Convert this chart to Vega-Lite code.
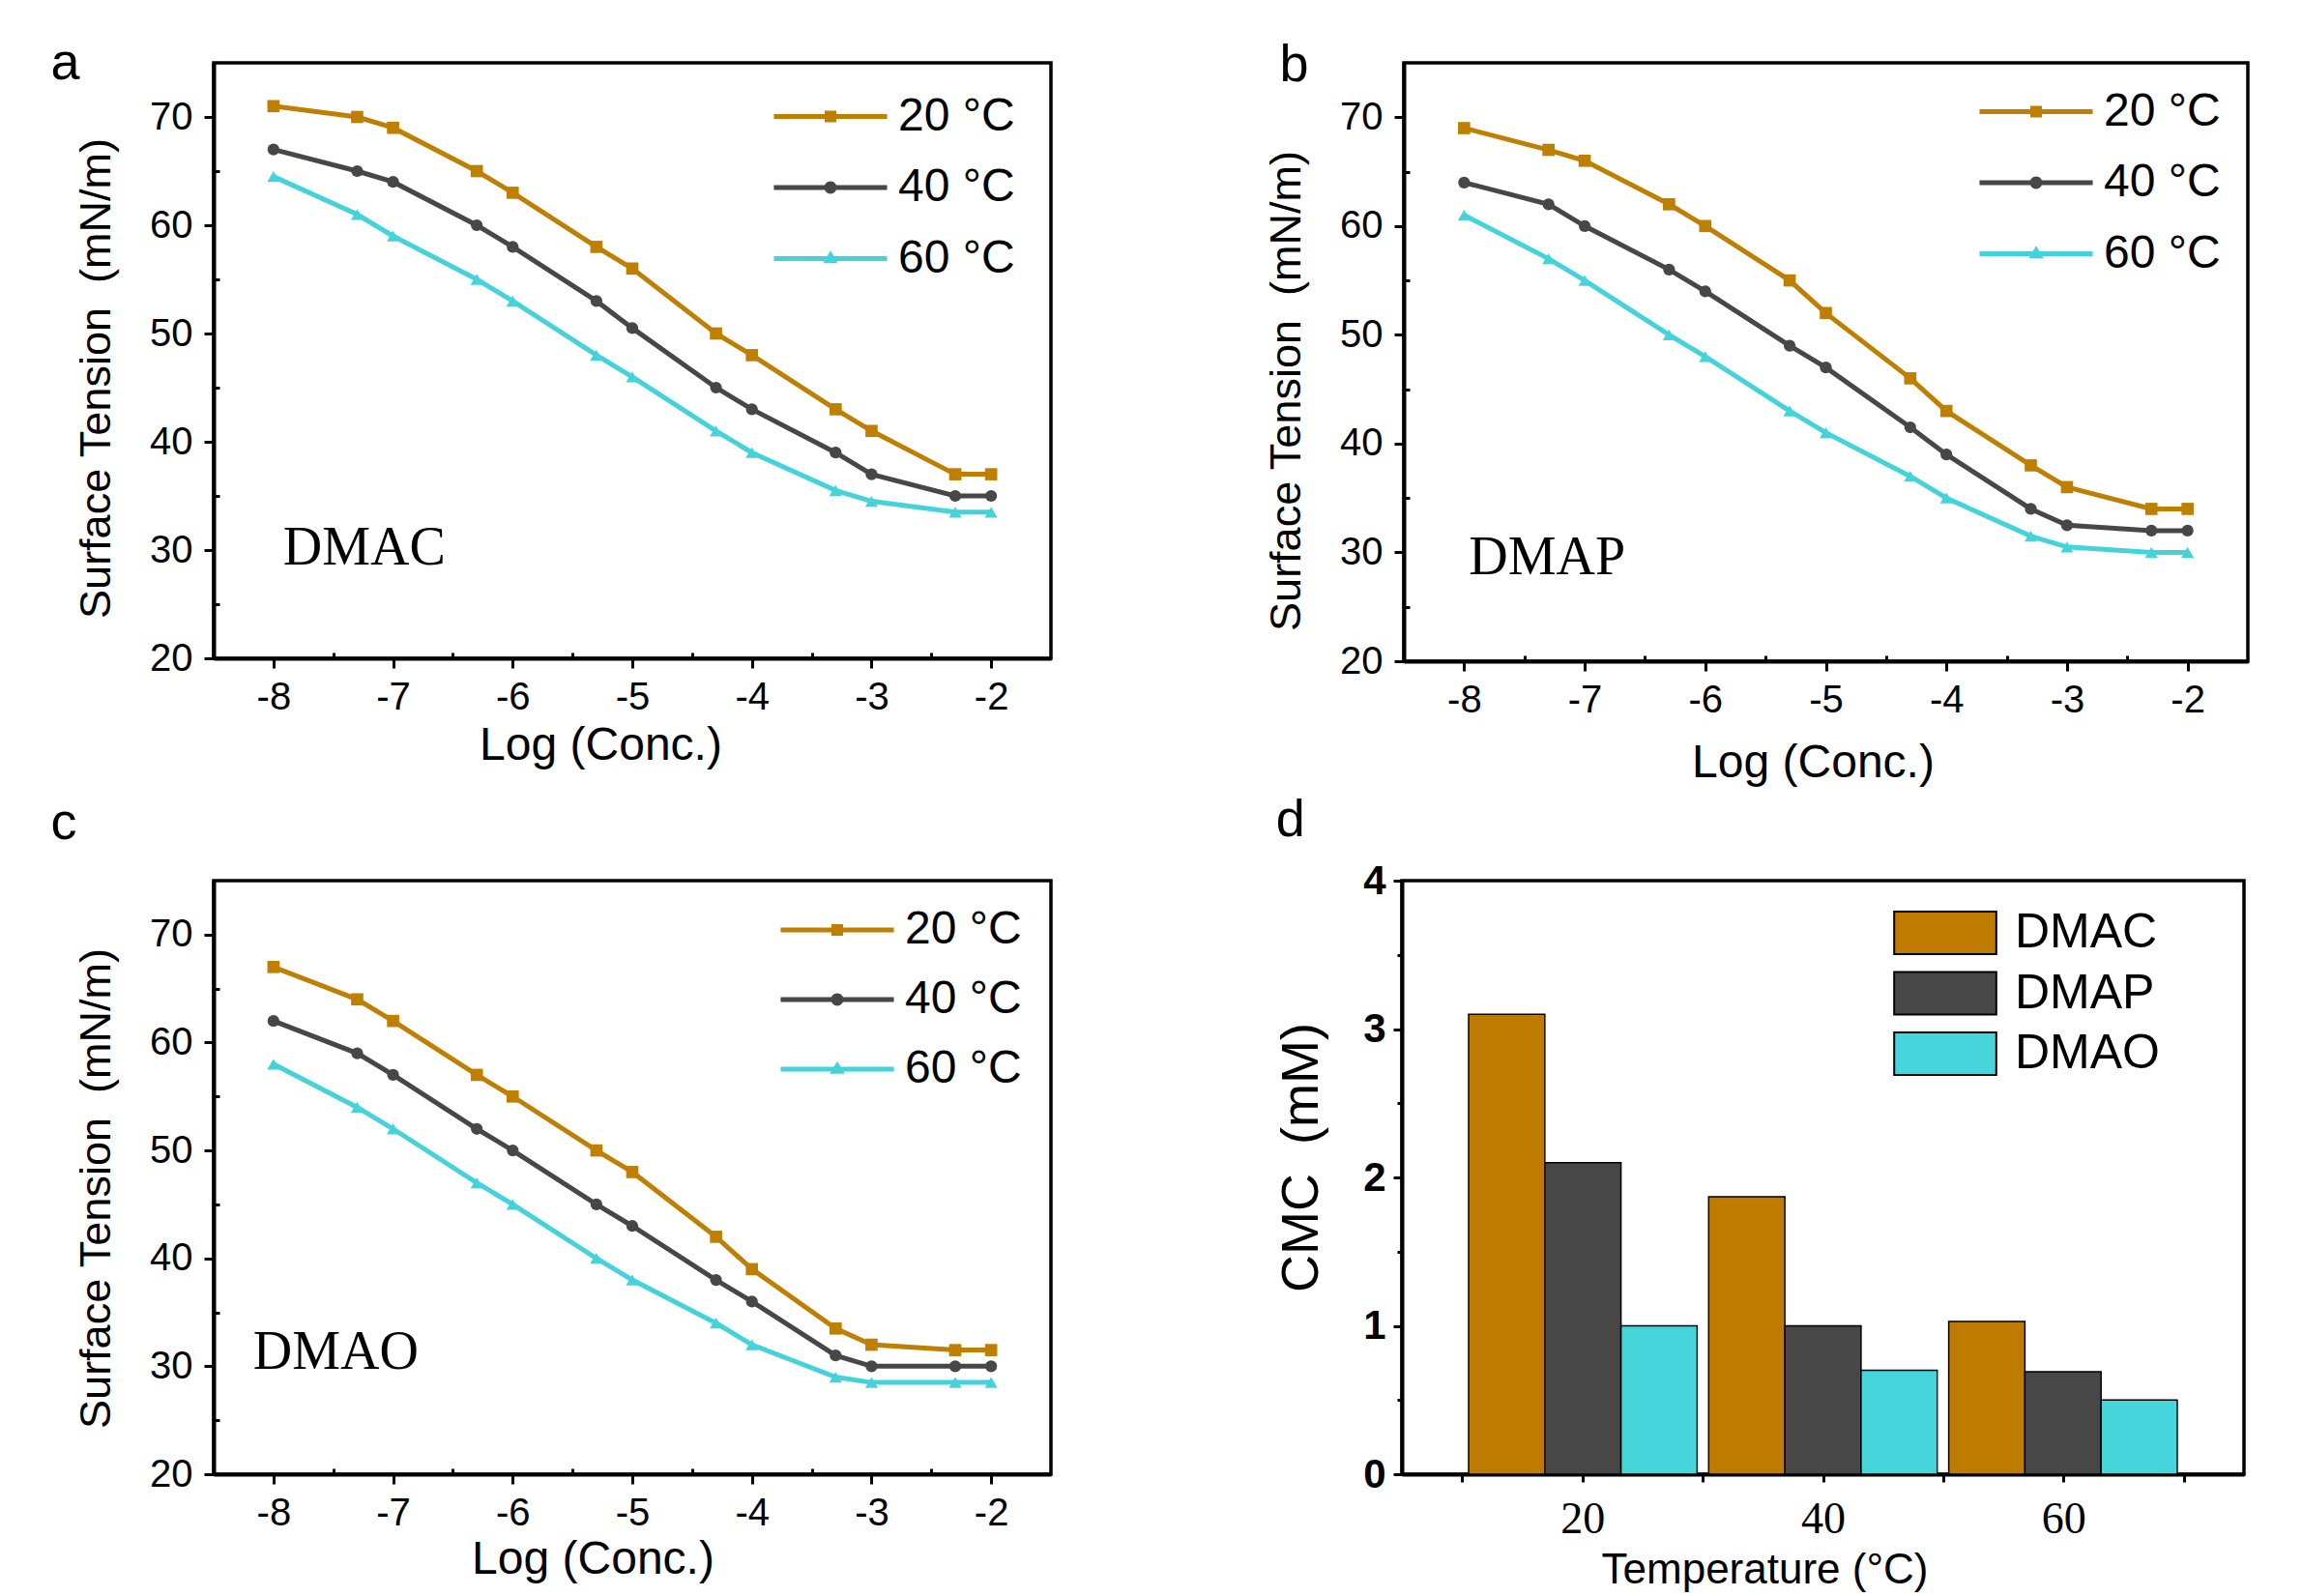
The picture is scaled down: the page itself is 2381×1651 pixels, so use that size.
{
  "$schema": "https://vega.github.io/schema/vega-lite/v6.json",
  "background": "white",
  "padding": {"left": 50, "top": 37, "right": 0, "bottom": 0},
  "config": {
    "view": {"stroke": "black", "strokeWidth": 3.5},
    "axis": {"grid": false, "domainColor": "black", "domainWidth": 4, "tickColor": "black", "tickWidth": 3, "labelColor": "black", "titleColor": "black", "labelFont": "Liberation Sans", "titleFont": "Liberation Sans", "titleFontWeight": "normal", "labelFlush": false, "labelOverlap": false, "labelBound": false},
    "legend": {"labelFont": "Liberation Sans", "labelColor": "black", "labelLimit": 400},
    "title": {"font": "Liberation Sans", "fontSize": 54, "fontWeight": "normal", "color": "black", "anchor": "start", "frame": "bounds", "baseline": "alphabetic"}
  },
  "datasets": {
    "a": [
      {"x": -8, "y": 71, "T": "20 °C"}, {"x": -7.3, "y": 70, "T": "20 °C"}, {"x": -7, "y": 69, "T": "20 °C"}, {"x": -6.3, "y": 65, "T": "20 °C"}, {"x": -6, "y": 63, "T": "20 °C"}, {"x": -5.3, "y": 58, "T": "20 °C"}, {"x": -5, "y": 56, "T": "20 °C"}, {"x": -4.3, "y": 50, "T": "20 °C"}, {"x": -4, "y": 48, "T": "20 °C"}, {"x": -3.3, "y": 43, "T": "20 °C"}, {"x": -3, "y": 41, "T": "20 °C"}, {"x": -2.3, "y": 37, "T": "20 °C"}, {"x": -2, "y": 37, "T": "20 °C"},
      {"x": -8, "y": 67, "T": "40 °C"}, {"x": -7.3, "y": 65, "T": "40 °C"}, {"x": -7, "y": 64, "T": "40 °C"}, {"x": -6.3, "y": 60, "T": "40 °C"}, {"x": -6, "y": 58, "T": "40 °C"}, {"x": -5.3, "y": 53, "T": "40 °C"}, {"x": -5, "y": 50.5, "T": "40 °C"}, {"x": -4.3, "y": 45, "T": "40 °C"}, {"x": -4, "y": 43, "T": "40 °C"}, {"x": -3.3, "y": 39, "T": "40 °C"}, {"x": -3, "y": 37, "T": "40 °C"}, {"x": -2.3, "y": 35, "T": "40 °C"}, {"x": -2, "y": 35, "T": "40 °C"},
      {"x": -8, "y": 64.5, "T": "60 °C"}, {"x": -7.3, "y": 61, "T": "60 °C"}, {"x": -7, "y": 59, "T": "60 °C"}, {"x": -6.3, "y": 55, "T": "60 °C"}, {"x": -6, "y": 53, "T": "60 °C"}, {"x": -5.3, "y": 48, "T": "60 °C"}, {"x": -5, "y": 46, "T": "60 °C"}, {"x": -4.3, "y": 41, "T": "60 °C"}, {"x": -4, "y": 39, "T": "60 °C"}, {"x": -3.3, "y": 35.5, "T": "60 °C"}, {"x": -3, "y": 34.5, "T": "60 °C"}, {"x": -2.3, "y": 33.5, "T": "60 °C"}, {"x": -2, "y": 33.5, "T": "60 °C"}
    ],
    "b": [
      {"x": -8, "y": 69, "T": "20 °C"}, {"x": -7.3, "y": 67, "T": "20 °C"}, {"x": -7, "y": 66, "T": "20 °C"}, {"x": -6.3, "y": 62, "T": "20 °C"}, {"x": -6, "y": 60, "T": "20 °C"}, {"x": -5.3, "y": 55, "T": "20 °C"}, {"x": -5, "y": 52, "T": "20 °C"}, {"x": -4.3, "y": 46, "T": "20 °C"}, {"x": -4, "y": 43, "T": "20 °C"}, {"x": -3.3, "y": 38, "T": "20 °C"}, {"x": -3, "y": 36, "T": "20 °C"}, {"x": -2.3, "y": 34, "T": "20 °C"}, {"x": -2, "y": 34, "T": "20 °C"},
      {"x": -8, "y": 64, "T": "40 °C"}, {"x": -7.3, "y": 62, "T": "40 °C"}, {"x": -7, "y": 60, "T": "40 °C"}, {"x": -6.3, "y": 56, "T": "40 °C"}, {"x": -6, "y": 54, "T": "40 °C"}, {"x": -5.3, "y": 49, "T": "40 °C"}, {"x": -5, "y": 47, "T": "40 °C"}, {"x": -4.3, "y": 41.5, "T": "40 °C"}, {"x": -4, "y": 39, "T": "40 °C"}, {"x": -3.3, "y": 34, "T": "40 °C"}, {"x": -3, "y": 32.5, "T": "40 °C"}, {"x": -2.3, "y": 32, "T": "40 °C"}, {"x": -2, "y": 32, "T": "40 °C"},
      {"x": -8, "y": 61, "T": "60 °C"}, {"x": -7.3, "y": 57, "T": "60 °C"}, {"x": -7, "y": 55, "T": "60 °C"}, {"x": -6.3, "y": 50, "T": "60 °C"}, {"x": -6, "y": 48, "T": "60 °C"}, {"x": -5.3, "y": 43, "T": "60 °C"}, {"x": -5, "y": 41, "T": "60 °C"}, {"x": -4.3, "y": 37, "T": "60 °C"}, {"x": -4, "y": 35, "T": "60 °C"}, {"x": -3.3, "y": 31.5, "T": "60 °C"}, {"x": -3, "y": 30.5, "T": "60 °C"}, {"x": -2.3, "y": 30, "T": "60 °C"}, {"x": -2, "y": 30, "T": "60 °C"}
    ],
    "c": [
      {"x": -8, "y": 67, "T": "20 °C"}, {"x": -7.3, "y": 64, "T": "20 °C"}, {"x": -7, "y": 62, "T": "20 °C"}, {"x": -6.3, "y": 57, "T": "20 °C"}, {"x": -6, "y": 55, "T": "20 °C"}, {"x": -5.3, "y": 50, "T": "20 °C"}, {"x": -5, "y": 48, "T": "20 °C"}, {"x": -4.3, "y": 42, "T": "20 °C"}, {"x": -4, "y": 39, "T": "20 °C"}, {"x": -3.3, "y": 33.5, "T": "20 °C"}, {"x": -3, "y": 32, "T": "20 °C"}, {"x": -2.3, "y": 31.5, "T": "20 °C"}, {"x": -2, "y": 31.5, "T": "20 °C"},
      {"x": -8, "y": 62, "T": "40 °C"}, {"x": -7.3, "y": 59, "T": "40 °C"}, {"x": -7, "y": 57, "T": "40 °C"}, {"x": -6.3, "y": 52, "T": "40 °C"}, {"x": -6, "y": 50, "T": "40 °C"}, {"x": -5.3, "y": 45, "T": "40 °C"}, {"x": -5, "y": 43, "T": "40 °C"}, {"x": -4.3, "y": 38, "T": "40 °C"}, {"x": -4, "y": 36, "T": "40 °C"}, {"x": -3.3, "y": 31, "T": "40 °C"}, {"x": -3, "y": 30, "T": "40 °C"}, {"x": -2.3, "y": 30, "T": "40 °C"}, {"x": -2, "y": 30, "T": "40 °C"},
      {"x": -8, "y": 58, "T": "60 °C"}, {"x": -7.3, "y": 54, "T": "60 °C"}, {"x": -7, "y": 52, "T": "60 °C"}, {"x": -6.3, "y": 47, "T": "60 °C"}, {"x": -6, "y": 45, "T": "60 °C"}, {"x": -5.3, "y": 40, "T": "60 °C"}, {"x": -5, "y": 38, "T": "60 °C"}, {"x": -4.3, "y": 34, "T": "60 °C"}, {"x": -4, "y": 32, "T": "60 °C"}, {"x": -3.3, "y": 29, "T": "60 °C"}, {"x": -3, "y": 28.5, "T": "60 °C"}, {"x": -2.3, "y": 28.5, "T": "60 °C"}, {"x": -2, "y": 28.5, "T": "60 °C"}
    ],
    "d": [
      {"t": 20, "c": "DMAC", "v": 3.1}, {"t": 20, "c": "DMAP", "v": 2.1}, {"t": 20, "c": "DMAO", "v": 1.0},
      {"t": 40, "c": "DMAC", "v": 1.87}, {"t": 40, "c": "DMAP", "v": 1.0}, {"t": 40, "c": "DMAO", "v": 0.7},
      {"t": 60, "c": "DMAC", "v": 1.03}, {"t": 60, "c": "DMAP", "v": 0.69}, {"t": 60, "c": "DMAO", "v": 0.5}
    ]
  },
  "resolve": {"scale": {"color": "independent", "shape": "independent"}},
  "spacing": 5,
  "vconcat": [
    {
      "resolve": {"scale": {"color": "independent", "shape": "independent"}},
      "spacing": 217,
      "hconcat": [
        {
          "width": 866, "height": 616,
          "title": {"text": "a", "offset": -28, "dx": -25},
          "data": {"name": "a"},
          "layer": [
            {"mark": {"type": "point", "filled": true, "size": 0, "opacity": 1},
             "encoding": {
               "x": {"field": "x", "type": "quantitative", "axis": null},
               "y": {"field": "y", "type": "quantitative", "axis": null},
               "color": {"field": "T", "type": "nominal", "scale": {"domain": ["20 °C", "40 °C", "60 °C"], "range": ["#BF7F00", "#474747", "#45D3DB"]},
                         "legend": {"title": null, "orient": "none", "legendX": 614, "legendY": 31.5, "symbolSize": 2304, "symbolStrokeWidth": 0, "symbolOpacity": 1, "labelFontSize": 48, "labelOffset": 46, "rowPadding": 25.5, "padding": 0}},
               "shape": {"field": "T", "type": "nominal", "scale": {"domain": ["20 °C", "40 °C", "60 °C"], "range": ["M-2.44,-0.1H2.44V0.1H-2.44ZM-0.25,-0.25H0.25V0.25H-0.25Z", "M-2.44,-0.1H2.44V0.1H-2.44ZM-0.27,0A0.27,0.27 0 1,1 0.27,0A0.27,0.27 0 1,1 -0.27,0Z", "M-2.44,-0.1H2.44V0.1H-2.44ZM0,-0.34L0.32,0.2L-0.32,0.2Z"]},
                         "legend": {"title": null, "orient": "none", "legendX": 614, "legendY": 31.5, "symbolSize": 2304, "symbolStrokeWidth": 0, "symbolOpacity": 1, "labelFontSize": 48, "labelOffset": 46, "rowPadding": 25.5, "padding": 0}}
             }},
            {"mark": {"type": "line", "strokeWidth": 5},
             "encoding": {
               "x": {"field": "x", "type": "quantitative", "scale": {"domain": [-8.5, -1.5], "nice": false, "zero": false},
                     "axis": {"orient": "bottom", "values": [-8, -7, -6, -5, -4, -3, -2], "labelExpr": "'' + datum.value", "title": "Log (Conc.)", "tickSize": 10, "labelFontSize": 40, "labelPadding": 10, "titleFontSize": 48, "titlePadding": 6, "titleX": 400, "titleAlign": "center"}},
               "y": {"field": "y", "type": "quantitative", "scale": {"domain": [20, 75], "nice": false, "zero": false},
                     "axis": {"orient": "left", "values": [20, 30, 40, 50, 60, 70], "title": "Surface Tension\u00a0 (mN/m)", "tickSize": 10, "labelFontSize": 40, "labelPadding": 12, "titleFontSize": 45, "titlePadding": 32, "titleY": 326}},
               "color": {"field": "T", "type": "nominal"}
             }},
            {"transform": [{"filter": "datum.T === '20 °C'"}],
             "mark": {"type": "point", "shape": "square", "filled": true, "size": 160, "opacity": 1},
             "encoding": {
               "x": {"field": "x", "type": "quantitative", "axis": {"orient": "bottom", "values": [-7.5, -6.5, -5.5, -4.5, -3.5, -2.5], "labels": false, "domain": false, "title": null, "tickSize": -6}},
               "y": {"field": "y", "type": "quantitative", "axis": {"orient": "left", "values": [25, 35, 45, 55, 65], "labels": false, "domain": false, "title": null, "tickSize": -6}},
               "color": {"field": "T", "type": "nominal"}
             }},
            {"transform": [{"filter": "datum.T === '40 °C'"}],
             "mark": {"type": "point", "shape": "circle", "filled": true, "size": 150, "opacity": 1},
             "encoding": {
               "x": {"field": "x", "type": "quantitative", "axis": null},
               "y": {"field": "y", "type": "quantitative", "axis": null},
               "color": {"field": "T", "type": "nominal"}
             }},
            {"transform": [{"filter": "datum.T === '60 °C'"}],
             "mark": {"type": "point", "shape": "triangle-up", "filled": true, "size": 170, "opacity": 1},
             "encoding": {
               "x": {"field": "x", "type": "quantitative", "axis": null},
               "y": {"field": "y", "type": "quantitative", "axis": null},
               "color": {"field": "T", "type": "nominal"}
             }},
            {"data": {"values": [{"label": "DMAC"}]},
             "mark": {"type": "text", "font": "Liberation Serif", "fontSize": 56, "align": "left", "baseline": "alphabetic", "color": "black"},
             "encoding": {"x": {"datum": -7.92, "type": "quantitative", "axis": null}, "y": {"datum": 28.7, "type": "quantitative", "axis": null}, "text": {"field": "label"}}}
          ],
          "resolve": {"axis": {"x": "independent", "y": "independent"}}
        },
        {
          "width": 873, "height": 619,
          "title": {"text": "b", "offset": -30, "dx": 15},
          "data": {"name": "b"},
          "layer": [
            {"mark": {"type": "point", "filled": true, "size": 0, "opacity": 1},
             "encoding": {
               "x": {"field": "x", "type": "quantitative", "axis": null},
               "y": {"field": "y", "type": "quantitative", "axis": null},
               "color": {"field": "T", "type": "nominal", "scale": {"domain": ["20 °C", "40 °C", "60 °C"], "range": ["#BF7F00", "#474747", "#45D3DB"]},
                         "legend": {"title": null, "orient": "none", "legendX": 630, "legendY": 26.5, "symbolSize": 2304, "symbolStrokeWidth": 0, "symbolOpacity": 1, "labelFontSize": 48, "labelOffset": 46, "rowPadding": 25.5, "padding": 0}},
               "shape": {"field": "T", "type": "nominal", "scale": {"domain": ["20 °C", "40 °C", "60 °C"], "range": ["M-2.44,-0.1H2.44V0.1H-2.44ZM-0.25,-0.25H0.25V0.25H-0.25Z", "M-2.44,-0.1H2.44V0.1H-2.44ZM-0.27,0A0.27,0.27 0 1,1 0.27,0A0.27,0.27 0 1,1 -0.27,0Z", "M-2.44,-0.1H2.44V0.1H-2.44ZM0,-0.34L0.32,0.2L-0.32,0.2Z"]},
                         "legend": {"title": null, "orient": "none", "legendX": 630, "legendY": 26.5, "symbolSize": 2304, "symbolStrokeWidth": 0, "symbolOpacity": 1, "labelFontSize": 48, "labelOffset": 46, "rowPadding": 25.5, "padding": 0}}
             }},
            {"mark": {"type": "line", "strokeWidth": 5},
             "encoding": {
               "x": {"field": "x", "type": "quantitative", "scale": {"domain": [-8.5, -1.5], "nice": false, "zero": false},
                     "axis": {"orient": "bottom", "values": [-8, -7, -6, -5, -4, -3, -2], "labelExpr": "'' + datum.value", "title": "Log (Conc.)", "tickSize": 10, "labelFontSize": 40, "labelPadding": 10, "titleFontSize": 48, "titlePadding": 21, "titleX": 423, "titleAlign": "center"}},
               "y": {"field": "y", "type": "quantitative", "scale": {"domain": [20, 75], "nice": false, "zero": false},
                     "axis": {"orient": "left", "values": [20, 30, 40, 50, 60, 70], "title": "Surface Tension\u00a0 (mN/m)", "tickSize": 10, "labelFontSize": 40, "labelPadding": 12, "titleFontSize": 45, "titlePadding": 32, "titleY": 339}},
               "color": {"field": "T", "type": "nominal"}
             }},
            {"transform": [{"filter": "datum.T === '20 °C'"}],
             "mark": {"type": "point", "shape": "square", "filled": true, "size": 160, "opacity": 1},
             "encoding": {
               "x": {"field": "x", "type": "quantitative", "axis": {"orient": "bottom", "values": [-7.5, -6.5, -5.5, -4.5, -3.5, -2.5], "labels": false, "domain": false, "title": null, "tickSize": -6}},
               "y": {"field": "y", "type": "quantitative", "axis": {"orient": "left", "values": [25, 35, 45, 55, 65], "labels": false, "domain": false, "title": null, "tickSize": -6}},
               "color": {"field": "T", "type": "nominal"}
             }},
            {"transform": [{"filter": "datum.T === '40 °C'"}],
             "mark": {"type": "point", "shape": "circle", "filled": true, "size": 150, "opacity": 1},
             "encoding": {
               "x": {"field": "x", "type": "quantitative", "axis": null},
               "y": {"field": "y", "type": "quantitative", "axis": null},
               "color": {"field": "T", "type": "nominal"}
             }},
            {"transform": [{"filter": "datum.T === '60 °C'"}],
             "mark": {"type": "point", "shape": "triangle-up", "filled": true, "size": 170, "opacity": 1},
             "encoding": {
               "x": {"field": "x", "type": "quantitative", "axis": null},
               "y": {"field": "y", "type": "quantitative", "axis": null},
               "color": {"field": "T", "type": "nominal"}
             }},
            {"data": {"values": [{"label": "DMAP"}]},
             "mark": {"type": "text", "font": "Liberation Serif", "fontSize": 56, "align": "left", "baseline": "alphabetic", "color": "black"},
             "encoding": {"x": {"datum": -7.96, "type": "quantitative", "axis": null}, "y": {"datum": 28, "type": "quantitative", "axis": null}, "text": {"field": "label"}}}
          ],
          "resolve": {"axis": {"x": "independent", "y": "independent"}}
        }
      ]
    },
    {
      "resolve": {"scale": {"color": "independent", "shape": "independent"}},
      "spacing": 228,
      "hconcat": [
        {
          "width": 866, "height": 614,
          "title": {"text": "c", "offset": 32, "dx": -25},
          "data": {"name": "c"},
          "layer": [
            {"mark": {"type": "point", "filled": true, "size": 0, "opacity": 1},
             "encoding": {
               "x": {"field": "x", "type": "quantitative", "axis": null},
               "y": {"field": "y", "type": "quantitative", "axis": null},
               "color": {"field": "T", "type": "nominal", "scale": {"domain": ["20 °C", "40 °C", "60 °C"], "range": ["#BF7F00", "#474747", "#45D3DB"]},
                         "legend": {"title": null, "orient": "none", "legendX": 621, "legendY": 27, "symbolSize": 2304, "symbolStrokeWidth": 0, "symbolOpacity": 1, "labelFontSize": 48, "labelOffset": 46, "rowPadding": 24, "padding": 0}},
               "shape": {"field": "T", "type": "nominal", "scale": {"domain": ["20 °C", "40 °C", "60 °C"], "range": ["M-2.44,-0.1H2.44V0.1H-2.44ZM-0.25,-0.25H0.25V0.25H-0.25Z", "M-2.44,-0.1H2.44V0.1H-2.44ZM-0.27,0A0.27,0.27 0 1,1 0.27,0A0.27,0.27 0 1,1 -0.27,0Z", "M-2.44,-0.1H2.44V0.1H-2.44ZM0,-0.34L0.32,0.2L-0.32,0.2Z"]},
                         "legend": {"title": null, "orient": "none", "legendX": 621, "legendY": 27, "symbolSize": 2304, "symbolStrokeWidth": 0, "symbolOpacity": 1, "labelFontSize": 48, "labelOffset": 46, "rowPadding": 24, "padding": 0}}
             }},
            {"mark": {"type": "line", "strokeWidth": 5},
             "encoding": {
               "x": {"field": "x", "type": "quantitative", "scale": {"domain": [-8.5, -1.5], "nice": false, "zero": false},
                     "axis": {"orient": "bottom", "values": [-8, -7, -6, -5, -4, -3, -2], "labelExpr": "'' + datum.value", "title": "Log (Conc.)", "tickSize": 10, "labelFontSize": 40, "labelPadding": 10, "titleFontSize": 48, "titlePadding": 4, "titleX": 392, "titleAlign": "center"}},
               "y": {"field": "y", "type": "quantitative", "scale": {"domain": [20, 75], "nice": false, "zero": false},
                     "axis": {"orient": "left", "values": [20, 30, 40, 50, 60, 70], "title": "Surface Tension\u00a0 (mN/m)", "tickSize": 10, "labelFontSize": 40, "labelPadding": 12, "titleFontSize": 45, "titlePadding": 32, "titleY": 318}},
               "color": {"field": "T", "type": "nominal"}
             }},
            {"transform": [{"filter": "datum.T === '20 °C'"}],
             "mark": {"type": "point", "shape": "square", "filled": true, "size": 160, "opacity": 1},
             "encoding": {
               "x": {"field": "x", "type": "quantitative", "axis": {"orient": "bottom", "values": [-7.5, -6.5, -5.5, -4.5, -3.5, -2.5], "labels": false, "domain": false, "title": null, "tickSize": -6}},
               "y": {"field": "y", "type": "quantitative", "axis": {"orient": "left", "values": [25, 35, 45, 55, 65], "labels": false, "domain": false, "title": null, "tickSize": -6}},
               "color": {"field": "T", "type": "nominal"}
             }},
            {"transform": [{"filter": "datum.T === '40 °C'"}],
             "mark": {"type": "point", "shape": "circle", "filled": true, "size": 150, "opacity": 1},
             "encoding": {
               "x": {"field": "x", "type": "quantitative", "axis": null},
               "y": {"field": "y", "type": "quantitative", "axis": null},
               "color": {"field": "T", "type": "nominal"}
             }},
            {"transform": [{"filter": "datum.T === '60 °C'"}],
             "mark": {"type": "point", "shape": "triangle-up", "filled": true, "size": 170, "opacity": 1},
             "encoding": {
               "x": {"field": "x", "type": "quantitative", "axis": null},
               "y": {"field": "y", "type": "quantitative", "axis": null},
               "color": {"field": "T", "type": "nominal"}
             }},
            {"data": {"values": [{"label": "DMAO"}]},
             "mark": {"type": "text", "font": "Liberation Serif", "fontSize": 56, "align": "left", "baseline": "alphabetic", "color": "black"},
             "encoding": {"x": {"datum": -8.17, "type": "quantitative", "axis": null}, "y": {"datum": 29.8, "type": "quantitative", "axis": null}, "text": {"field": "label"}}}
          ],
          "resolve": {"axis": {"x": "independent", "y": "independent"}}
        },
        {
          "width": 871, "height": 614,
          "title": {"text": "d", "offset": 14, "dx": 0},
          "data": {"name": "d"},
          "layer": [
            {"mark": {"type": "bar", "stroke": "black", "strokeWidth": 1.5},
             "encoding": {
               "x": {"field": "t", "type": "ordinal", "scale": {"paddingInner": 0.048, "paddingOuter": 0.278}, "axis": null},
               "xOffset": {"field": "c", "type": "nominal", "scale": {"domain": ["DMAC", "DMAP", "DMAO"], "paddingInner": 0, "paddingOuter": 0}},
               "y": {"field": "v", "type": "quantitative", "scale": {"domain": [0, 4], "nice": false, "zero": true},
                     "axis": {"orient": "left", "values": [0, 1, 2, 3, 4], "title": "CMC\u00a0 (mM)", "tickSize": 9, "labelFontSize": 42, "labelFontWeight": "bold", "labelPadding": 8, "titleFontSize": 54, "titlePadding": 36, "titleY": 286}},
               "color": {"field": "c", "type": "nominal", "scale": {"domain": ["DMAC", "DMAP", "DMAO"], "range": ["#BE7B00", "#474747", "#45D5DB"]},
                         "legend": {"title": null, "orient": "none", "legendX": 537, "legendY": 29, "symbolType": "M-2.4,-1H2.4V1H-2.4Z", "symbolSize": 1936, "symbolStrokeColor": "black", "symbolStrokeWidth": 2, "labelFontSize": 50, "labelOffset": 47, "rowPadding": 10.5, "padding": 0}}
             }},
            {"mark": {"type": "point", "opacity": 0},
             "encoding": {
               "x": {"field": "t", "type": "quantitative", "scale": {"domain": [5, 75], "nice": false, "zero": false},
                     "axis": {"orient": "bottom", "values": [10, 20, 30, 40, 50, 60, 70], "labelExpr": "datum.value % 20 === 0 ? '' + datum.value : ''", "title": "Temperature (°C)", "tickSize": 8, "labelFont": "Liberation Serif", "labelFontSize": 46, "labelPadding": 16, "titleFontSize": 44, "titlePadding": 8, "titleX": 375, "titleAlign": "center"}},
               "y": {"field": "v", "type": "quantitative", "axis": {"orient": "left", "values": [0.5, 1.5, 2.5, 3.5], "labels": false, "domain": false, "title": null, "tickSize": 5}}
             }}
          ],
          "resolve": {"scale": {"x": "independent"}, "axis": {"x": "independent", "y": "independent"}}
        }
      ]
    }
  ]
}
